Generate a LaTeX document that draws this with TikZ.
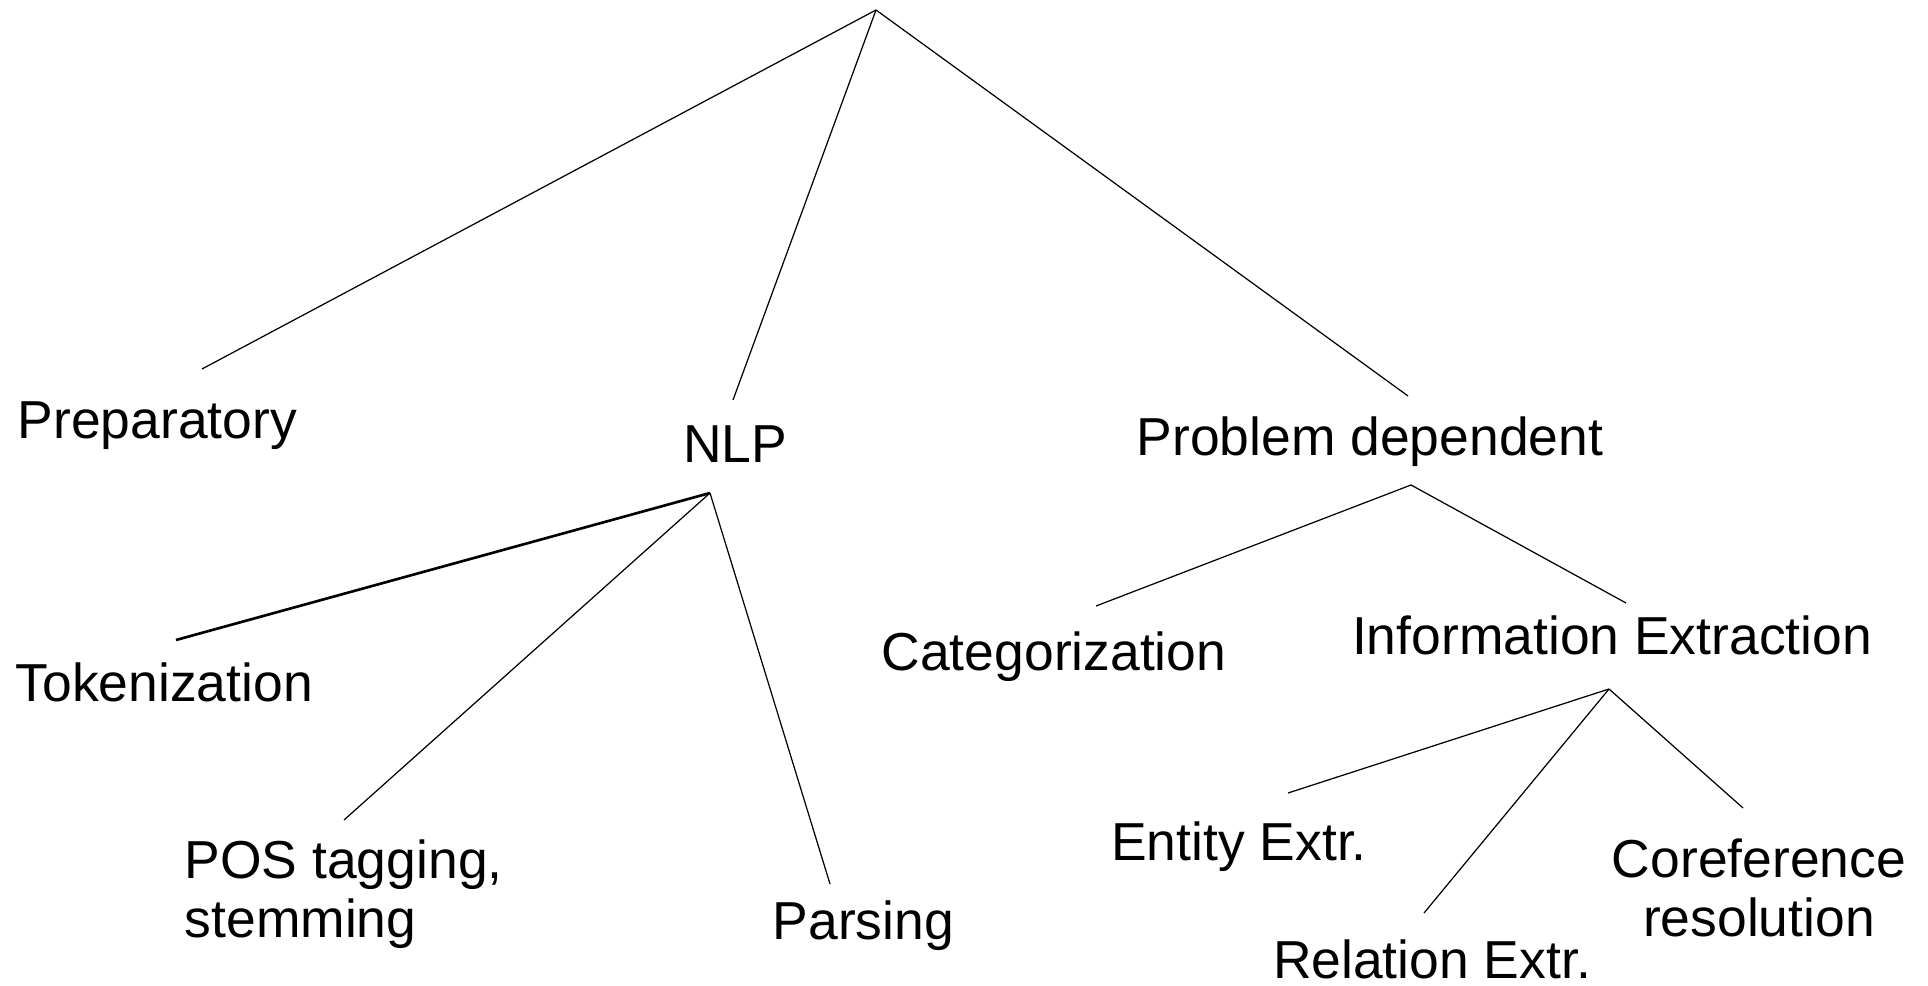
\documentclass[tikz,border=0pt]{standalone}
\usepackage{fontspec}
\setmainfont{Liberation Sans}
\usepackage{tikz}
\usetikzlibrary{positioning}

\begin{document}
\begin{tikzpicture}[x=0.01cm, y=-0.01cm,
    label/.style={inner sep=0pt, font=\fontsize{15.2pt}{16.7pt}\selectfont, align=center},
    branch/.style={line width=0.35pt, color=black}]
      \useasboundingbox (0,0) rectangle (1928,986);

      % top level
      \coordinate (root) at (876,10);
      \node (prep) [label, anchor=base west] at (17,439) {Preparatory};
      \node (nlp) [label, anchor=base] at (735,463) {NLP};
      \node (probdep) [label, anchor=base] at (1370,456) {Problem dependent};

      \coordinate (prepIn) at (202,369);
      \coordinate (nlpIn) at (733,400);
      \coordinate (probdepIn) at (1408,396);

      \draw[branch] (root) -- (prepIn);
      \draw[branch] (root) -- (nlpIn);
      \draw[branch] (root) -- (probdepIn);

      % NLP subtree
      \coordinate (nlpOut) at (710,493);
      \node (token) [label, anchor=base west] at (15,702) {Tokenization};
      \node (pos) [label, anchor=base west, align=left] at (184,937) {POS tagging,\\stemming};
      \node (parse) [label, anchor=base west] at (772,939) {Parsing};

      \coordinate (tokenIn) at (176,640);
      \coordinate (posIn) at (344,820);
      \coordinate (parseIn) at (830,884);

      \draw[branch, line width=0.75pt] (nlpOut) -- (tokenIn);
      \draw[branch] (nlpOut) -- (posIn);
      \draw[branch] (nlpOut) -- (parseIn);

      % problem dependent subtree
      \coordinate (probdepOut) at (1411,485);
      \node (categ) [label, anchor=base] at (1054,671) {Categorization};
      \node (infoext) [label, anchor=base] at (1612,655) {Information Extraction};

      \coordinate (categIn) at (1096,606);
      \coordinate (infoextIn) at (1626,603);

      \draw[branch] (probdepOut) -- (categIn);
      \draw[branch] (probdepOut) -- (infoextIn);

      % information extraction subtree
      \coordinate (infoextOut) at (1609,689);
      \node (entity) [label, anchor=base] at (1239,860) {Entity Extr.};
      \node (relation) [label, anchor=base] at (1432,978) {Relation Extr.};
      \node (coref) [label, anchor=base] at (1759,936) {Coreference\\resolution};

      \coordinate (entityIn) at (1288,793);
      \coordinate (relationIn) at (1424,913);
      \coordinate (corefIn) at (1743,808);

      \draw[branch] (infoextOut) -- (entityIn);
      \draw[branch] (infoextOut) -- (relationIn);
      \draw[branch] (infoextOut) -- (corefIn);
  \end{tikzpicture}
\end{document}
